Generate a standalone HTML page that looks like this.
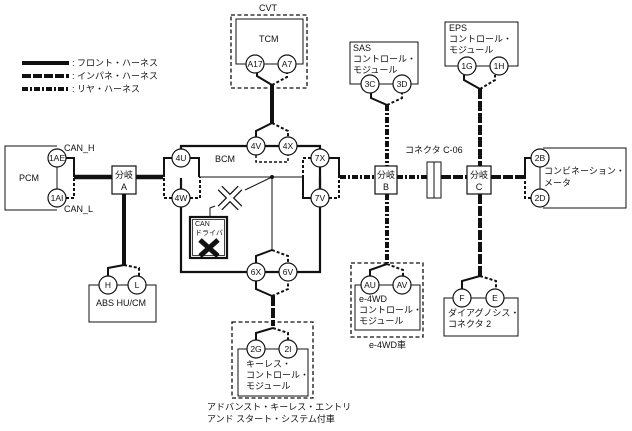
<!DOCTYPE html>
<html><head><meta charset="utf-8"><style>
body{margin:0;background:#fff}
svg{display:block}
text{font-family:"Liberation Sans","Noto Sans CJK JP",sans-serif;font-size:9px;fill:#111}
.c{fill:#fff;stroke:#111;stroke-width:1.2}
.ct{font-size:8.5px;text-anchor:middle}
</style></head><body>
<svg width="632" height="431" viewBox="0 0 632 431" xmlns="http://www.w3.org/2000/svg">
<g fill="none" stroke="#111">
<line x1="22" y1="63" x2="69" y2="63" stroke-width="4"/>
<line x1="22" y1="76" x2="69" y2="76" stroke-width="4" stroke-dasharray="9,2"/>
<line x1="22" y1="89" x2="69" y2="89" stroke-width="4" stroke-dasharray="6,2,2,2"/>
<rect x="231" y="15" width="76" height="73" stroke-width="1.3" stroke-dasharray="4,2.5"/>
<rect x="236" y="19" width="67" height="45" stroke-width="1"/>
<path d="M57 146H5V210H57" stroke-width="1"/>
<line x1="57" y1="158" x2="57" y2="198" stroke-width="1"/>
<path d="M66 158H74V177" stroke-width="2"/>
<path d="M66 198H74V177" stroke-width="2" stroke-dasharray="3,2"/>
<line x1="74" y1="177" x2="112" y2="177" stroke-width="4.5"/>
<rect x="112" y="166" width="24" height="28" stroke-width="1.2"/>
<line x1="136" y1="177" x2="163" y2="177" stroke-width="4.5"/>
<line x1="124" y1="194" x2="124" y2="265" stroke-width="4"/>
<path d="M108 276V268L124 265" stroke-width="2"/>
<path d="M124 265L139 268V276" stroke-width="2" stroke-dasharray="3,2"/>
<path d="M99 285H89V322H156V285H146" stroke-width="1"/>
<line x1="117" y1="285" x2="128" y2="285" stroke-width="1"/>
<path d="M181 198V272H247M265 272H279M297 272H320V167M320 149V146H297M279 146H265M247 146H181V167" stroke-width="2.2"/>
<line x1="181" y1="178" x2="181" y2="189" stroke-width="2.2"/>
<line x1="320" y1="178" x2="320" y2="189" stroke-width="2.2"/>
<path d="M172 158H164V177" stroke-width="2"/>
<path d="M172 198H164V177" stroke-width="2" stroke-dasharray="3,2"/>
<path d="M190 158H199V177" stroke-width="2"/>
<path d="M190 198H200V177" stroke-width="2" stroke-dasharray="3,2"/>
<line x1="200" y1="177" x2="302" y2="177" stroke-width="1"/>
<line x1="272" y1="177" x2="272" y2="250" stroke-width="1"/>
<line x1="272" y1="177" x2="245" y2="190" stroke-width="1"/>
<path d="M215 206L210 208V218" stroke-width="1"/>
<path d="M220 188L240 208M240 188L220 208" stroke-width="6.5"/>
<path d="M220 188L240 208M240 188L220 208" stroke="#fff" stroke-width="4"/>
<rect x="190" y="217" width="37" height="41" stroke-width="2.2"/>
<rect x="192.5" y="219.5" width="32" height="36" stroke-width="0.8"/>
<path d="M200 240L218 256M218 240L200 256" stroke-width="5"/>
<path d="M256 137V131L272 123" stroke-width="2"/>
<path d="M272 123L288 131V137" stroke-width="2" stroke-dasharray="3,2"/>
<path d="M256 155V162H288V155" stroke-width="1.5" stroke-dasharray="3,2"/>
<line x1="272" y1="123" x2="272" y2="85" stroke-width="4"/>
<path d="M257 73V76L272 85" stroke-width="2"/>
<path d="M272 85L287 77V73" stroke-width="2" stroke-dasharray="3,2"/>
<line x1="264" y1="64" x2="278" y2="64" stroke-width="1"/>
<path d="M256 263V256L272 250" stroke-width="2"/>
<path d="M272 250L288 256V263" stroke-width="2" stroke-dasharray="3,2"/>
<path d="M256 281V289L272 296" stroke-width="2"/>
<path d="M272 296L288 289V281" stroke-width="2" stroke-dasharray="3,2"/>
<line x1="273" y1="296" x2="273" y2="326" stroke-width="4" stroke-dasharray="10,2"/>
<path d="M256 340V333L273 328" stroke-width="2"/>
<path d="M273 328L288 333V340" stroke-width="2" stroke-dasharray="3,2"/>
<rect x="232" y="322" width="81" height="76" stroke-width="1.3" stroke-dasharray="4,2.5"/>
<path d="M247 349H238V396H308V349H297M265 349H279" stroke-width="1"/>
<path d="M311 158H303V177" stroke-width="2" stroke-dasharray="3,2"/>
<path d="M311 198H303V177" stroke-width="2"/>
<path d="M329 158H339V177" stroke-width="2"/>
<path d="M329 198H339V177" stroke-width="2" stroke-dasharray="3,2"/>
<line x1="340" y1="177" x2="375" y2="177" stroke-width="4" stroke-dasharray="6,2,2,2"/>
<rect x="375" y="166" width="22" height="28" stroke-width="1.2"/>
<line x1="397" y1="177" x2="427" y2="177" stroke-width="4" stroke-dasharray="6,2,2,2"/>
<rect x="427" y="162" width="7" height="36" stroke-width="1"/>
<rect x="434" y="162" width="7" height="36" stroke-width="1"/>
<line x1="441" y1="177" x2="467" y2="177" stroke-width="4" stroke-dasharray="10,2"/>
<rect x="467" y="166" width="24" height="28" stroke-width="1.2"/>
<line x1="491" y1="177" x2="524" y2="177" stroke-width="4" stroke-dasharray="10,2"/>
<path d="M531 158H525V177" stroke-width="2"/>
<path d="M531 198H525V177" stroke-width="2" stroke-dasharray="3,2"/>
<line x1="540" y1="167" x2="540" y2="189" stroke-width="1"/>
<path d="M543 148H626V208H543" stroke-width="1"/>
<path d="M361 84H350V42H418V84H411M379 84H393" stroke-width="1"/>
<path d="M371 93V98L387 105" stroke-width="2"/>
<path d="M387 105L402 98V93" stroke-width="2" stroke-dasharray="3,2"/>
<line x1="387" y1="105" x2="387" y2="166" stroke-width="4" stroke-dasharray="6,2,2,2"/>
<line x1="387" y1="194" x2="387" y2="263" stroke-width="4" stroke-dasharray="6,2,2,2"/>
<path d="M370 276V270L387 264" stroke-width="2"/>
<path d="M387 264L403 270V276" stroke-width="2" stroke-dasharray="3,2"/>
<rect x="351" y="263" width="72" height="74" stroke-width="1.3" stroke-dasharray="4,2.5"/>
<path d="M361 285H355V330H420V285H411M379 285H393" stroke-width="1"/>
<path d="M458 66H445V22H518V66H508M476 66H490" stroke-width="1"/>
<path d="M464 75V80L480 89" stroke-width="2"/>
<path d="M480 89L495 80V75" stroke-width="2" stroke-dasharray="3,2"/>
<line x1="480" y1="89" x2="480" y2="166" stroke-width="4" stroke-dasharray="10,2"/>
<line x1="480" y1="194" x2="480" y2="276" stroke-width="4" stroke-dasharray="10,2"/>
<path d="M462 289V281L480 276" stroke-width="2"/>
<path d="M480 276L496 281V289" stroke-width="2" stroke-dasharray="3,2"/>
<path d="M453 298H444V336H518V298H504M471 298H486" stroke-width="1"/>
</g>
<g>
<circle class="c" cx="255" cy="64" r="9"/><circle class="c" cx="287" cy="64" r="9"/>
<circle class="c" cx="57" cy="158" r="9"/><circle class="c" cx="57" cy="198" r="9"/>
<circle class="c" cx="108" cy="285" r="9"/><circle class="c" cx="137" cy="285" r="9"/>
<circle class="c" cx="181" cy="158" r="9"/><circle class="c" cx="181" cy="198" r="9"/>
<circle class="c" cx="256" cy="146" r="9"/><circle class="c" cx="288" cy="146" r="9"/>
<circle class="c" cx="320" cy="158" r="9"/><circle class="c" cx="320" cy="198" r="9"/>
<circle class="c" cx="256" cy="272" r="9"/><circle class="c" cx="288" cy="272" r="9"/>
<circle class="c" cx="256" cy="349" r="9"/><circle class="c" cx="288" cy="349" r="9"/>
<circle class="c" cx="370" cy="84" r="9"/><circle class="c" cx="402" cy="84" r="9"/>
<circle class="c" cx="370" cy="285" r="9"/><circle class="c" cx="402" cy="285" r="9"/>
<circle class="c" cx="467" cy="66" r="9"/><circle class="c" cx="499" cy="66" r="9"/>
<circle class="c" cx="462" cy="298" r="9"/><circle class="c" cx="495" cy="298" r="9"/>
<circle class="c" cx="540" cy="158" r="9"/><circle class="c" cx="540" cy="198" r="9"/>
<circle cx="272" cy="177" r="2" fill="#111"/>
</g>
<text class="ct" x="255" y="67">A17</text><text class="ct" x="287" y="67">A7</text>
<text class="ct" x="57" y="161">1AE</text><text class="ct" x="57" y="201">1AI</text>
<text class="ct" x="108" y="288">H</text><text class="ct" x="137" y="288">L</text>
<text class="ct" x="181" y="161">4U</text><text class="ct" x="181" y="201">4W</text>
<text class="ct" x="256" y="149">4V</text><text class="ct" x="288" y="149">4X</text>
<text class="ct" x="320" y="161">7X</text><text class="ct" x="320" y="201">7V</text>
<text class="ct" x="256" y="275">6X</text><text class="ct" x="288" y="275">6V</text>
<text class="ct" x="256" y="352">2G</text><text class="ct" x="288" y="352">2I</text>
<text class="ct" x="370" y="87">3C</text><text class="ct" x="402" y="87">3D</text>
<text class="ct" x="370" y="288">AU</text><text class="ct" x="402" y="288">AV</text>
<text class="ct" x="467" y="69">1G</text><text class="ct" x="499" y="69">1H</text>
<text class="ct" x="462" y="301">F</text><text class="ct" x="495" y="301">E</text>
<text class="ct" x="540" y="161">2B</text><text class="ct" x="540" y="201">2D</text>
<text x="72" y="66">: フロント・ハーネス</text>
<text x="72" y="79">: インパネ・ハーネス</text>
<text x="72" y="92">: リヤ・ハーネス</text>
<text x="259" y="11">CVT</text>
<text x="259" y="42">TCM</text>
<text x="19" y="181">PCM</text>
<text x="64" y="151">CAN_H</text>
<text x="64" y="212">CAN_L</text>
<text x="124" y="178" text-anchor="middle">分岐</text><text x="124" y="190" text-anchor="middle">A</text>
<text x="386" y="178" text-anchor="middle">分岐</text><text x="386" y="190" text-anchor="middle">B</text>
<text x="479" y="178" text-anchor="middle">分岐</text><text x="479" y="190" text-anchor="middle">C</text>
<text x="96" y="306">ABS HU/CM</text>
<text x="215" y="162">BCM</text>
<text x="195" y="226" style="font-size:7px">CAN</text>
<text x="195" y="235" style="font-size:7px">ドライバ</text>
<text x="405" y="153">コネクタ C-06</text>
<text x="544" y="174">コンビネーション・</text>
<text x="544" y="186">メータ</text>
<text x="353" y="51">SAS</text><text x="353" y="62">コントロール・</text><text x="353" y="73">モジュール</text>
<text x="449" y="31">EPS</text><text x="449" y="42">コントロール・</text><text x="449" y="53">モジュール</text>
<text x="359" y="302">e-4WD</text><text x="359" y="313">コントロール・</text><text x="359" y="324">モジュール</text>
<text x="369" y="348">e-4WD車</text>
<text x="448" y="316">ダイアグノシス・</text><text x="448" y="327">コネクタ 2</text>
<text x="246" y="367">キーレス・</text><text x="246" y="378">コントロール・</text><text x="246" y="389">モジュール</text>
<text x="207" y="410">アドバンスト・キーレス・エントリ</text>
<text x="207" y="422">アンド スタート・システム付車</text>
</svg>
</body></html>
